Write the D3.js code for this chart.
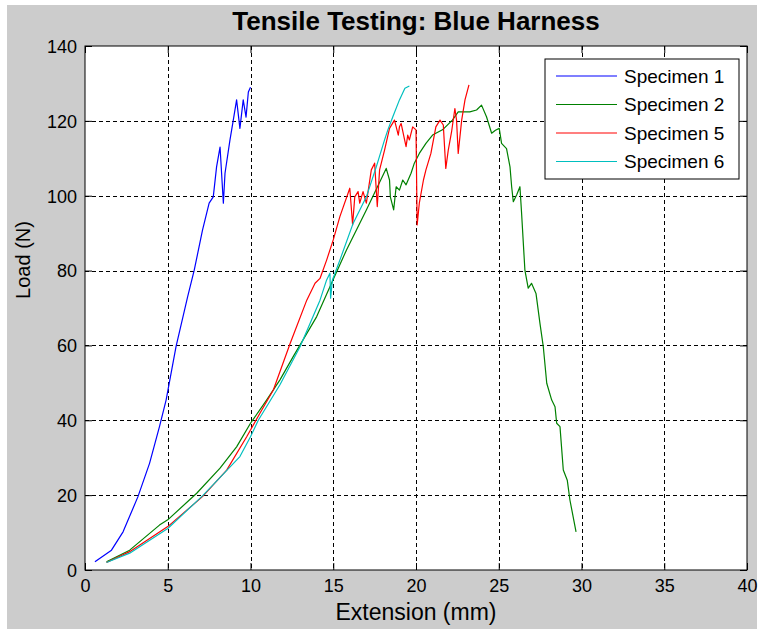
<!DOCTYPE html>
<html lang="en">
<head>
  <meta charset="UTF-8" />
  <title>Tensile Testing: Blue Harness</title>
  <style>
    body {
      margin: 0;
      background-color: white;
    }
    svg {
      display: block;
      font-family: 'Liberation Sans', Arial, sans-serif;
    }
    .grid line {
      stroke: black;
      stroke-width: 1;
      stroke-dasharray: 4 3;
    }
    .tick-label {
      font-size: 18px;
      fill: black;
    }
  </style>
  <script src="https://d3js.org/d3.v7.min.js"></script>
</head>
<body>
  <div id="chart"></div>

  <script>
    // [extension (mm), load (N)]
    const specimen1 = [
      [0.6, 2.2], [1.6, 5.3], [2.3, 10.2], [3.2, 19.6], [3.9, 28.5], [4.5, 38.3],
      [4.9, 45.4], [5.5, 59.7], [6.2, 73], [6.6, 80.1], [7.1, 90.8], [7.5, 98],
      [7.75, 99.7], [7.95, 107.7], [8.16, 113], [8.36, 98], [8.46, 106], [8.76, 114.9],
      [8.96, 120.2], [9.16, 125.6], [9.36, 118], [9.56, 125.6], [9.73, 121],
      [9.87, 127.7], [10.0, 129]
    ];
    const specimen2 = [
      [1.3, 2.2], [2.7, 5.3], [4.5, 12], [5.0, 13.4], [6.75, 20.5], [8.16, 27.2],
      [9.16, 32.9], [10.0, 39.2], [10.97, 45.4], [11.78, 50.8], [12.58, 57],
      [14.0, 67.7], [14.8, 75.7], [15.8, 85.5], [17.0, 96.2], [18.2, 107.3],
      [18.4, 104.2], [18.45, 99.7], [18.65, 96.2], [18.8, 102.4], [19.0, 101.5],
      [19.2, 104.2], [19.4, 102.9], [19.7, 106], [19.9, 108.7], [20.2, 111.3],
      [20.6, 114], [21.0, 116.2], [21.6, 117.6], [22.2, 120.2], [22.55, 122.4],
      [23.25, 122.4], [23.66, 122.9], [23.96, 124.2], [24.26, 121.1], [24.57, 116.7],
      [24.8, 117.5], [25.03, 118], [25.17, 114], [25.47, 112.6], [25.68, 107.7],
      [25.78, 102.4], [25.88, 98.4], [26.08, 100.2], [26.28, 102.4], [26.38, 95.3],
      [26.58, 80.1], [26.78, 75.3], [26.98, 76.6], [27.25, 73.9], [27.49, 65.9],
      [27.69, 59.7], [27.9, 49.9], [28.2, 45.4], [28.4, 43.6], [28.5, 39.2],
      [28.7, 38.3], [28.9, 26.7], [29.14, 24], [29.3, 18.7], [29.67, 10.2]
    ];
    const specimen5 = [
      [1.3, 2], [2.7, 4.9], [5.0, 11.6], [7.1, 19.6], [8.56, 26.7], [9.77, 35.6],
      [10.57, 41.9], [11.38, 48.1], [12.4, 60.6], [13.4, 72.1], [13.9, 76.6],
      [14.2, 77.9], [14.6, 82.8], [15.0, 88.2], [15.4, 94.4], [16.0, 102],
      [16.17, 92.2], [16.3, 99.7], [16.5, 101.1], [16.6, 98], [16.8, 101.1],
      [17.0, 98], [17.3, 106.9], [17.5, 108.7], [17.66, 97.1], [17.8, 106.9],
      [18.1, 112.2], [18.4, 118], [18.7, 120.2], [18.93, 116.2], [19.0, 118.4],
      [19.1, 119.3], [19.27, 115.8], [19.4, 113.1], [19.5, 116.2], [19.6, 114.9],
      [19.8, 118.4], [20.0, 117.6], [20.07, 92.2], [20.2, 98], [20.45, 104.2],
      [20.6, 106.9], [20.9, 111.3], [21.2, 118.4], [21.45, 120.2], [21.65, 118.9],
      [21.8, 107.3], [21.95, 112.2], [22.15, 117.1], [22.35, 123.3], [22.45, 120.2],
      [22.55, 111.3], [22.76, 120.2], [22.96, 125.6], [23.2, 129.6]
    ];
    const specimen6 = [
      [1.3, 2], [2.7, 4.5], [5.0, 11.1], [7.1, 19.8], [9.36, 30.3], [10.0, 35.6],
      [10.47, 40], [11.78, 49.5], [13.0, 59.7], [14.2, 72.1], [14.6, 77.5],
      [14.8, 79.3], [14.84, 72.6], [14.95, 77.5], [15.4, 82.8], [16.2, 92.6],
      [17.0, 99.7], [17.6, 107.7], [18.1, 114.9], [18.3, 117.6], [18.6, 121.1],
      [19.0, 125.6], [19.33, 128.7], [19.6, 129.3]
    ];

    const seriesNames = ["Specimen 1", "Specimen 2", "Specimen 5", "Specimen 6"];
    const seriesColors = ["#0000ff", "#008000", "#ff0000", "#00bfbf"];
    const seriesData = [specimen1, specimen2, specimen5, specimen6];

    const xTicks = [0, 5, 10, 15, 20, 25, 30, 35, 40];
    const yTicks = [0, 20, 40, 60, 80, 100, 120, 140];

    const width = 762;
    const height = 634;
    const margin = {left: 85, right: 15, top: 46, bottom: 64};

    const svg = d3.select("#chart")
      .append("svg")
      .attr("width", width)
      .attr("height", height);

    // figure background
    svg.append("rect")
      .attr("x", 7)
      .attr("y", 5)
      .attr("width", 750)
      .attr("height", 624)
      .attr("fill", "#cccccc");

    const x = d3.scaleLinear().domain([0, 40]).range([margin.left, width - margin.right]);
    const y = d3.scaleLinear().domain([0, 140]).range([height - margin.bottom, margin.top]);

    const plotW = x.range()[1] - x.range()[0];
    const plotH = y.range()[0] - y.range()[1];

    svg.append("rect")
      .attr("x", margin.left)
      .attr("y", margin.top)
      .attr("width", plotW)
      .attr("height", plotH)
      .attr("fill", "white");

    // grid
    const grid = svg.append("g").attr("class", "grid");
    grid.selectAll("line.vx")
      .data(xTicks.slice(1, -1))
      .enter().append("line")
      .attr("x1", d => Math.round(x(d)) + 0.5)
      .attr("x2", d => Math.round(x(d)) + 0.5)
      .attr("y1", y(140))
      .attr("y2", y(0));
    grid.selectAll("line.hy")
      .data(yTicks.slice(1, -1))
      .enter().append("line")
      .attr("y1", d => Math.round(y(d)) + 0.5)
      .attr("y2", d => Math.round(y(d)) + 0.5)
      .attr("x1", x(0))
      .attr("x2", x(40));

    // curves
    const line = d3.line()
      .x(d => x(d[0]))
      .y(d => y(d[1]));

    svg.append("g")
      .selectAll("path")
      .data(seriesData)
      .enter().append("path")
      .attr("d", line)
      .attr("fill", "none")
      .attr("stroke", (d, i) => seriesColors[i])
      .attr("stroke-width", 1.2)
      .attr("stroke-linejoin", "round");

    // axes with inward ticks on all four sides
    const tickLen = 7;
    const axisBottom = d3.axisBottom(x).tickValues(xTicks).tickSizeInner(-tickLen).tickSizeOuter(0).tickPadding(9);
    const axisTop = d3.axisTop(x).tickValues(xTicks).tickSizeInner(-tickLen).tickSizeOuter(0).tickFormat("");
    const axisLeft = d3.axisLeft(y).tickValues(yTicks).tickSizeInner(-tickLen).tickSizeOuter(0).tickPadding(8);
    const axisRight = d3.axisRight(y).tickValues(yTicks).tickSizeInner(-tickLen).tickSizeOuter(0).tickFormat("");

    const gB = svg.append("g").attr("transform", `translate(0,${y(0)})`).call(axisBottom);
    const gT = svg.append("g").attr("transform", `translate(0,${y(140)})`).call(axisTop);
    const gL = svg.append("g").attr("transform", `translate(${x(0)},0)`).call(axisLeft);
    const gR = svg.append("g").attr("transform", `translate(${x(40)},0)`).call(axisRight);

    [gB, gT, gL, gR].forEach(g => {
      g.select(".domain").remove();
      g.selectAll(".tick line").attr("stroke", "black");
      g.selectAll("text")
        .attr("class", "tick-label")
        .attr("font-family", null)
        .attr("font-size", null);
    });
    gL.selectAll("text").attr("dy", "0.35em");

    svg.append("rect")
      .attr("x", margin.left)
      .attr("y", margin.top)
      .attr("width", plotW)
      .attr("height", plotH)
      .attr("fill", "none")
      .attr("stroke", "black")
      .attr("stroke-width", 1);

    // title and axis labels
    svg.append("text")
      .attr("x", x(20))
      .attr("y", 30)
      .attr("text-anchor", "middle")
      .attr("font-size", 26)
      .attr("font-weight", "bold")
      .text("Tensile Testing: Blue Harness");

    svg.append("text")
      .attr("x", x(20))
      .attr("y", 620)
      .attr("text-anchor", "middle")
      .attr("font-size", 23)
      .text("Extension (mm)");

    svg.append("text")
      .attr("transform", "translate(30,260) rotate(-90)")
      .attr("text-anchor", "middle")
      .attr("font-size", 20)
      .text("Load (N)");

    // legend
    const legend = svg.append("g").attr("transform", "translate(545,59)");
    legend.append("rect")
      .attr("width", 194)
      .attr("height", 120)
      .attr("fill", "white")
      .attr("stroke", "black");

    const item = legend.selectAll("g.item")
      .data(seriesNames)
      .enter().append("g")
      .attr("class", "item")
      .attr("transform", (d, i) => `translate(0,${17 + i * 28.5})`);

    item.append("line")
      .attr("x1", 11)
      .attr("x2", 72)
      .attr("stroke", (d, i) => seriesColors[i])
      .attr("stroke-width", 1.2);

    item.append("text")
      .attr("x", 79)
      .attr("dy", "0.36em")
      .attr("font-size", 19)
      .text(d => d);
  </script>
</body>
</html>
